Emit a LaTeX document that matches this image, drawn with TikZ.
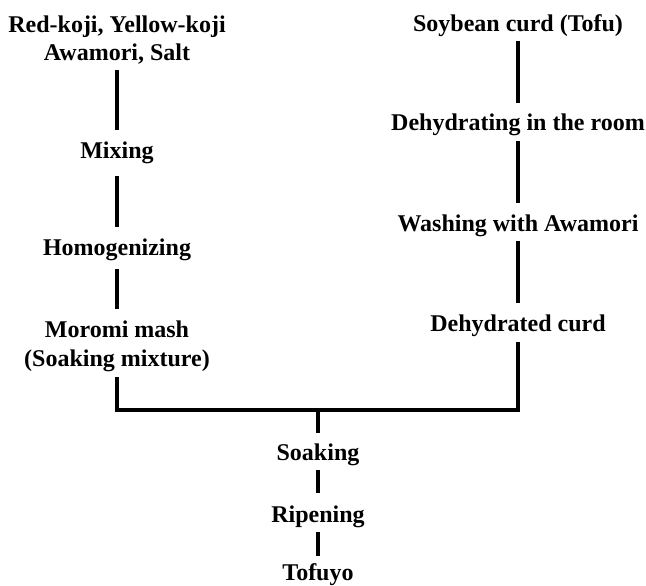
\documentclass[tikz,border=0pt]{standalone}
\usepackage{fontspec}
\setmainfont{Liberation Serif}
\usepackage{tikz}

\begin{document}
\begin{tikzpicture}[x=1pt, y=-1pt,
        stage/.style={anchor=base, inner sep=0pt, align=center,
            font=\fontsize{24}{28.5}\selectfont\bfseries},
        link/.style={line width=3.8pt}]

        \useasboundingbox (0,0) rectangle (646,586);

        % left branch
        \node[stage] (ingr) at (117,61) {Red-koji, Yellow-koji\\Awamori, Salt};
        \node[stage] (mix) at (117,158) {Mixing};
        \node[stage] (homo) at (117,255) {Homogenizing};
        \node[stage] (moromi) at (117,366) {Moromi mash\\(Soaking mixture)};

        % right branch
        \node[stage] (tofu) at (518,32) {Soybean curd (Tofu)};
        \node[stage] (dry) at (518,131) {Dehydrating in the room};
        \node[stage] (wash) at (518,231) {Washing with Awamori};
        \node[stage] (curd) at (518,331) {Dehydrated curd};

        % trunk
        \coordinate (join) at (318,410);
        \node[stage] (soak) at (318,460) {Soaking};
        \node[stage] (ripe) at (318,522) {Ripening};
        \node[stage] (tofuyo) at (318,580) {Tofuyo};

        \draw[link]
            ([yshift=-9pt]ingr.base) -- ([yshift=28pt]mix.base)
            ([yshift=-18pt]mix.base) -- ([yshift=28pt]homo.base)
            ([yshift=-14pt]homo.base) -- ([yshift=57pt]moromi.base);

        \draw[link]
            ([yshift=-9pt]tofu.base) -- ([yshift=28pt]dry.base)
            ([yshift=-10pt]dry.base) -- ([yshift=28pt]wash.base)
            ([yshift=-10pt]wash.base) -- ([yshift=28pt]curd.base);

        \draw[link]
            ([yshift=-11pt]moromi.base) |- (join) -| ([yshift=-11pt]curd.base);

        \draw[link]
            (join) -- ([yshift=27pt]soak.base)
            ([yshift=-10pt]soak.base) -- ([yshift=29pt]ripe.base)
            ([yshift=-10pt]ripe.base) -- ([yshift=24pt]tofuyo.base);

\end{tikzpicture}
\end{document}
